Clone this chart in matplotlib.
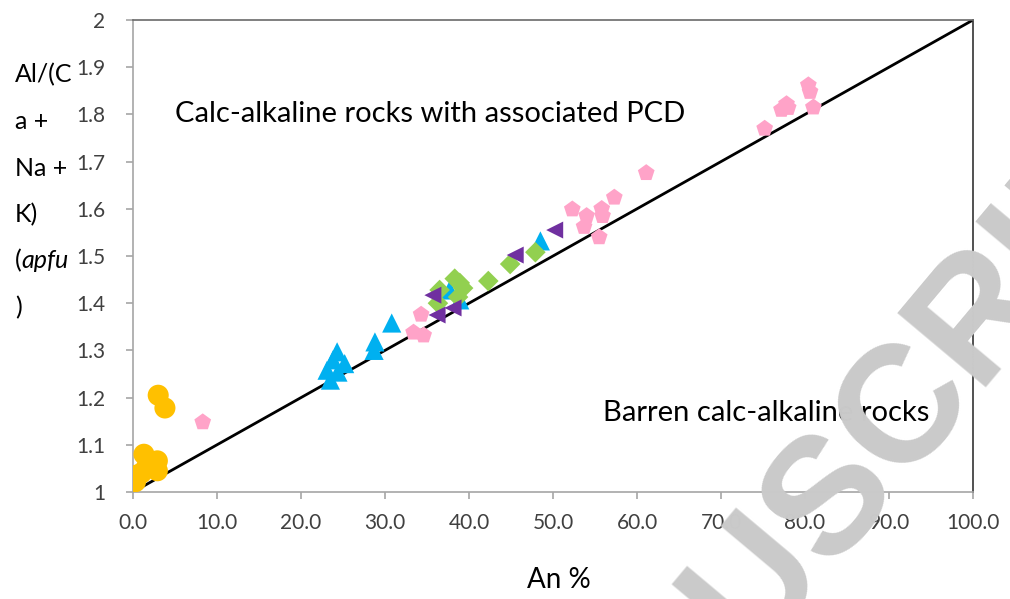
import matplotlib
matplotlib.use("Agg")
import matplotlib.pyplot as plt
import numpy as np

plt.rcParams['font.family'] = ['Lato', 'DejaVu Sans']

# An % (x) and Al/(Ca+Na+K) apfu (y) per group
circle_x = [3.0, 3.8, 1.3, 2.9, 0.5, 0.2, 2.9, 1.6, 0.3, 1.0]
circle_y = [1.205, 1.178, 1.080, 1.066, 1.036, 1.027, 1.045, 1.052, 1.022, 1.040]

pent_x = [8.3, 75.2, 78.0, 77.2, 80.6, 80.4, 81.0, 77.8,
          61.1, 57.3, 55.9, 55.8, 52.3, 53.7, 55.5, 54.0,
          34.6, 33.4, 34.3]
pent_y = [1.148, 1.770, 1.814, 1.810, 1.848, 1.862, 1.815, 1.822,
          1.676, 1.624, 1.585, 1.600, 1.599, 1.562, 1.540, 1.585,
          1.332, 1.338, 1.376]

tri_x = [30.8, 28.8, 28.7, 24.3, 25.2, 23.1, 23.5, 24.4, 23.8, 48.5, 37.7, 38.9]
tri_y = [1.358, 1.318, 1.300, 1.297, 1.272, 1.258, 1.237, 1.254, 1.280, 1.532, 1.428, 1.407]

left_x = [50.2, 45.5, 35.7, 36.2, 38.1]
left_y = [1.555, 1.502, 1.417, 1.375, 1.390]

dia_x = [47.9, 44.9, 42.3, 38.9, 39.3, 38.3, 36.5, 36.3, 38.7]
dia_y = [1.508, 1.483, 1.447, 1.443, 1.432, 1.452, 1.428, 1.400, 1.413]

ref_x = [0, 100]
ref_y = [1, 2]

xticks = [0, 10, 20, 30, 40, 50, 60, 70, 80, 90, 100]
yticks = [1, 1.1, 1.2, 1.3, 1.4, 1.5, 1.6, 1.7, 1.8, 1.9, 2]
ytick_labels = ['1', '1.1', '1.2', '1.3', '1.4', '1.5', '1.6', '1.7', '1.8', '1.9', '2']

fig = plt.figure(figsize=(10.10, 5.99), dpi=100)

# diagonal watermark behind the plot
fig.text(0.822, 0.176, 'MANUSCRIPT', rotation=50, fontsize=120, fontweight='bold',
         family='Liberation Sans', color='#cacaca', ha='center', va='center', zorder=0)

ax = fig.add_axes([133/1010, 1 - 492/599, 840/1010, 472/599])
ax.patch.set_alpha(0)

ax.plot(ref_x, ref_y, color='black', lw=2.0, zorder=2, solid_capstyle='butt')

ax.scatter(pent_x, pent_y, marker='p', s=160, color='#ffa3c8', edgecolors='none', zorder=3)
ax.scatter(circle_x, circle_y, marker='o', s=230, color='#ffc000', edgecolors='none', zorder=3)
ax.scatter(tri_x, tri_y, marker='^', s=190, color='#00b0f0', edgecolors='none', zorder=3)
ax.scatter(dia_x, dia_y, marker='D', s=110, color='#92d050', edgecolors='none', zorder=4)
ax.scatter(left_x, left_y, marker='<', s=150, color='#7030a0', edgecolors='none', zorder=4)

ax.set_xlim(0, 100)
ax.set_ylim(1, 2)
ax.set_xticks(xticks)
ax.set_xticklabels([f'{v:.1f}' for v in xticks])
ax.set_yticks(yticks)
ax.set_yticklabels(ytick_labels)

for side in ('left', 'bottom'):
    ax.spines[side].set_color('#a6a6a6')
    ax.spines[side].set_linewidth(1.2)
ax.spines['top'].set_color('#6a6a6a')
ax.spines['top'].set_linewidth(1.2)
ax.spines['right'].set_color('#333333')
ax.spines['right'].set_linewidth(1.2)

ax.tick_params(axis='both', colors='#a6a6a6', labelcolor='#404040', labelsize=15,
               length=5, width=1.2, direction='out')
ax.tick_params(axis='y', pad=15)
ax.tick_params(axis='x', pad=10)

ax.text(5.0, 1.80, 'Calc-alkaline rocks with associated PCD', fontsize=21, color='black',
        va='center', ha='left')
ax.text(55.95, 1.167, 'Barren calc-alkaline rocks', fontsize=21, color='black',
        va='center', ha='left')

fig.text(559/1010, 1 - 580/599, 'An %', fontsize=20, ha='center', va='center', color='black')

ylab_lines = ['Al/(C', 'a +', 'Na +', 'K)', None, ')']
y0 = 75
for i, line in enumerate(ylab_lines):
    ypix = y0 + i * 46.5
    if line is None:
        fig.text(15/1010, 1 - ypix/599, '(', fontsize=18, ha='left', va='center')
        fig.text(21/1010, 1 - ypix/599, 'apfu', fontsize=18, style='italic', ha='left', va='center')
    else:
        fig.text(15/1010, 1 - ypix/599, line, fontsize=18, ha='left', va='center')

fig.savefig('out.png', dpi=100)
